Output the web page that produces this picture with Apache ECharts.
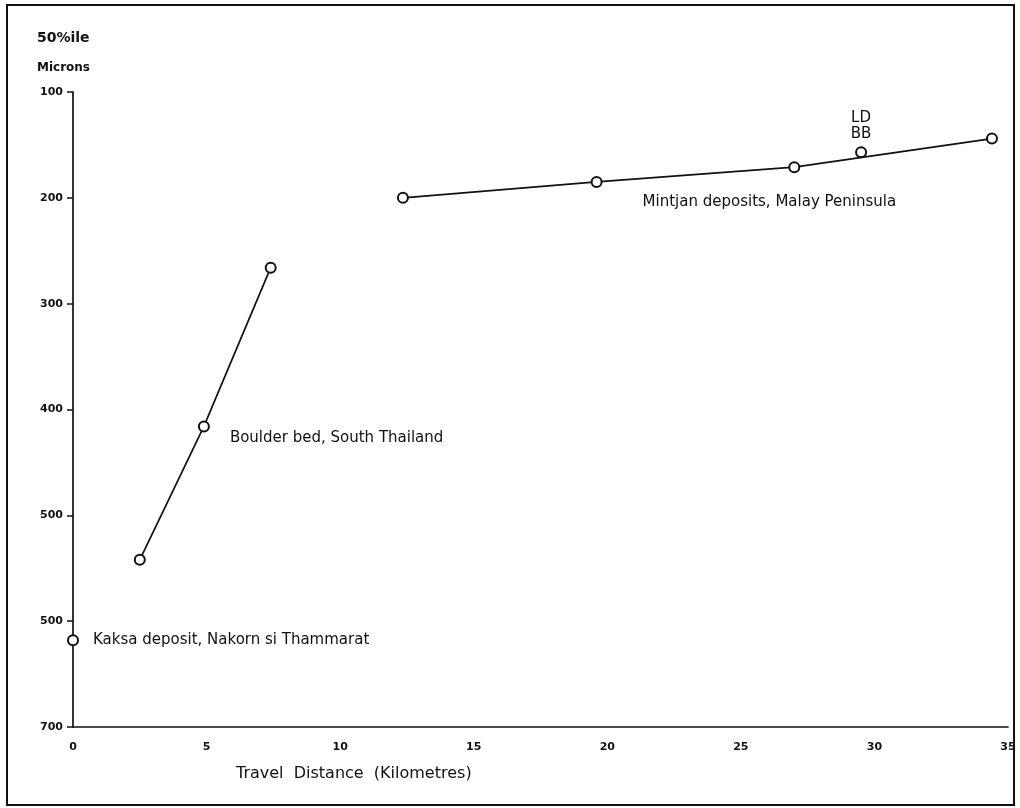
<!DOCTYPE html>
<html><head><meta charset="utf-8">
<script src="https://cdn.jsdelivr.net/npm/echarts@6/dist/echarts.min.js"></script>
<style>html,body{margin:0;padding:0;background:#fff}#c{width:1020px;height:808px}</style>
</head><body><div id="c"></div>
<script>
// Data (x = travel distance km, y = 50%ile microns)
var kaksa = [[0, 618]];
var boulder = [[2.5, 542], [4.9, 416], [7.4, 266]];
var mintjan = [[12.35, 200], [19.6, 185], [27.0, 171], [34.4, 144]];
var ldbb = [[29.5, 157]];
var yTickLabels = ['100', '200', '300', '400', '500', '500', '700'];
var xTickLabels = ['0', '5', '10', '15', '20', '25', '30', '35'];
var labelKaksa = 'Kaksa deposit, Nakorn si Thammarat';
var labelBoulder = 'Boulder bed, South Thailand';
var labelMintjan = 'Mintjan deposits, Malay Peninsula';
var labelLDBB = 'LD\nBB';
var xName = 'Travel  Distance  (Kilometres)';

var FONT = 'DejaVu Sans';
var txt = {color: '#111', fontFamily: FONT, fontSize: 15};
var sym = {symbol: 'emptyCircle', symbolSize: 10, itemStyle: {color: '#111', borderWidth: 1.8, opacity: 1}};
var ln = {color: '#111', width: 1.7};

function withLabel(arr, idx, lab) {
  return arr.map(function (p, i) {
    if (i !== idx) return p;
    var o = {value: p};
    o.label = Object.assign({show: true, formatter: lab.text}, txt, lab.opt);
    return o;
  });
}

var chart = echarts.init(document.getElementById('c'), null, {renderer: 'canvas'});
chart.setOption({
  backgroundColor: '#fff',
  animation: false,
  grid: {left: 73, right: 12, top: 92, bottom: 81, containLabel: false},
  xAxis: {
    type: 'value', min: 0, max: 35, interval: 5,
    axisLine: {show: true, lineStyle: {color: '#111', width: 1.7}},
    axisTick: {show: false},
    splitLine: {show: false},
    axisLabel: Object.assign({}, txt, {fontWeight: 'bold', fontSize: 11, margin: 15,
      formatter: function (v) { return xTickLabels[Math.round(v / 5)]; }})
  },
  yAxis: {
    type: 'value', inverse: true, min: 100, max: 700, interval: 100,
    axisLine: {show: true, lineStyle: {color: '#111', width: 1.7}},
    axisTick: {show: true, inside: false, length: 6, lineStyle: {color: '#111', width: 1.5}},
    splitLine: {show: false},
    axisLabel: Object.assign({}, txt, {fontWeight: 'bold', fontSize: 11, margin: 10,
      formatter: function (v) { return yTickLabels[Math.round((v - 100) / 100)]; }})
  },
  graphic: [
    {type: 'rect', shape: {x: 7, y: 5, width: 1007, height: 800}, style: {fill: 'none', stroke: '#111', lineWidth: 2}, silent: true},
    {type: 'text', left: 37, top: 31, style: {text: '50%ile', fill: '#111', font: 'bold 14px ' + FONT}},
    {type: 'text', left: 37, top: 62, style: {text: 'Microns', fill: '#111', font: 'bold 12px ' + FONT}},
    {type: 'text', left: 236, top: 766, style: {text: xName, fill: '#111', font: '16px ' + FONT}}
  ],
  series: [
    Object.assign({type: 'line', data: withLabel(kaksa, 0, {text: labelKaksa, opt: {position: 'right', distance: 14}}), lineStyle: ln}, sym),
    Object.assign({type: 'line', data: withLabel(boulder, 1, {text: labelBoulder, opt: {position: 'right', distance: 20, offset: [0, 12]}}), lineStyle: ln}, sym),
    Object.assign({type: 'line', data: withLabel(mintjan, 1, {text: labelMintjan, opt: {position: 'right', distance: 40, offset: [0, 20]}}), lineStyle: ln}, sym),
    Object.assign({type: 'scatter', data: withLabel(ldbb, 0, {text: labelLDBB, opt: {position: 'top', distance: 4, lineHeight: 16, align: 'center'}})}, sym)
  ]
});
</script>
</body></html>
